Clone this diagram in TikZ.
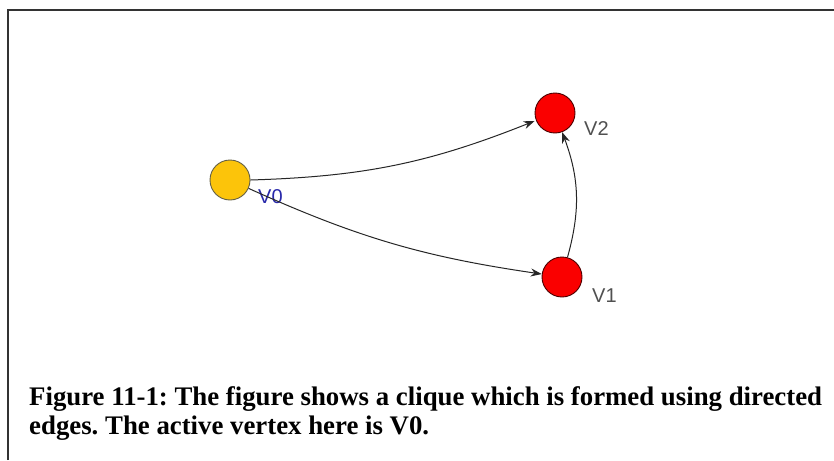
\documentclass[tikz,border=0pt]{standalone}
\usepackage{fontspec}
\setmainfont{Liberation Serif}
\newfontfamily\labfont{Liberation Sans}
\usetikzlibrary{arrows.meta}
\definecolor{vyellow}{RGB}{252,196,10}
\definecolor{vred}{RGB}{250,0,0}
\definecolor{vblue}{RGB}{40,40,170}
\definecolor{vgray}{RGB}{80,80,80}
\tikzset{
  vert/.style={circle, draw=black!70!red, line width=0.9pt, minimum size=40pt, inner sep=0pt},
  vlab/.style={font=\labfont\fontsize{20}{20}\selectfont, inner sep=0pt, anchor=base west},
  edge/.style={draw=black!85, line width=1pt, -{Stealth[length=11pt,width=8pt]}},
  caption/.style={font=\bfseries\fontsize{26.8}{29}\selectfont, anchor=base west, align=left, inner sep=0pt}
}
\begin{document}
\begin{tikzpicture}[x=1pt,y=-1pt]
\useasboundingbox (0,0) rectangle (834,460);
\fill[white] (0,0) rectangle (834,460);
\draw[line width=2pt, black!80] (8,460) -- (8,10) -- (834,10);
\node[vert, fill=vyellow, draw=black!70!yellow] (v0) at (230,180) {};
\node[vert, fill=vred] (v2) at (555,113) {};
\node[vert, fill=vred] (v1) at (562,277) {};
\node[vlab, text=vblue] (l0) at (258,203) {V0};
\node[vlab, text=vgray] (l2) at (584,135) {V2};
\node[vlab, text=vgray] (l1) at (592,302) {V1};
\draw[edge] (v0.east) to[bend right=10] (v2.west |- 0,121) ;
\draw[edge] (v0) to[bend right=8] (v1);
\draw[edge] (v1) to[bend right=18] (v2);
\node[caption] (cap) at (29,434) {\frenchspacing Figure 11-1: The figure shows a clique which is formed using directed\\\frenchspacing edges. The active vertex here is V0.};
\end{tikzpicture}
\end{document}
